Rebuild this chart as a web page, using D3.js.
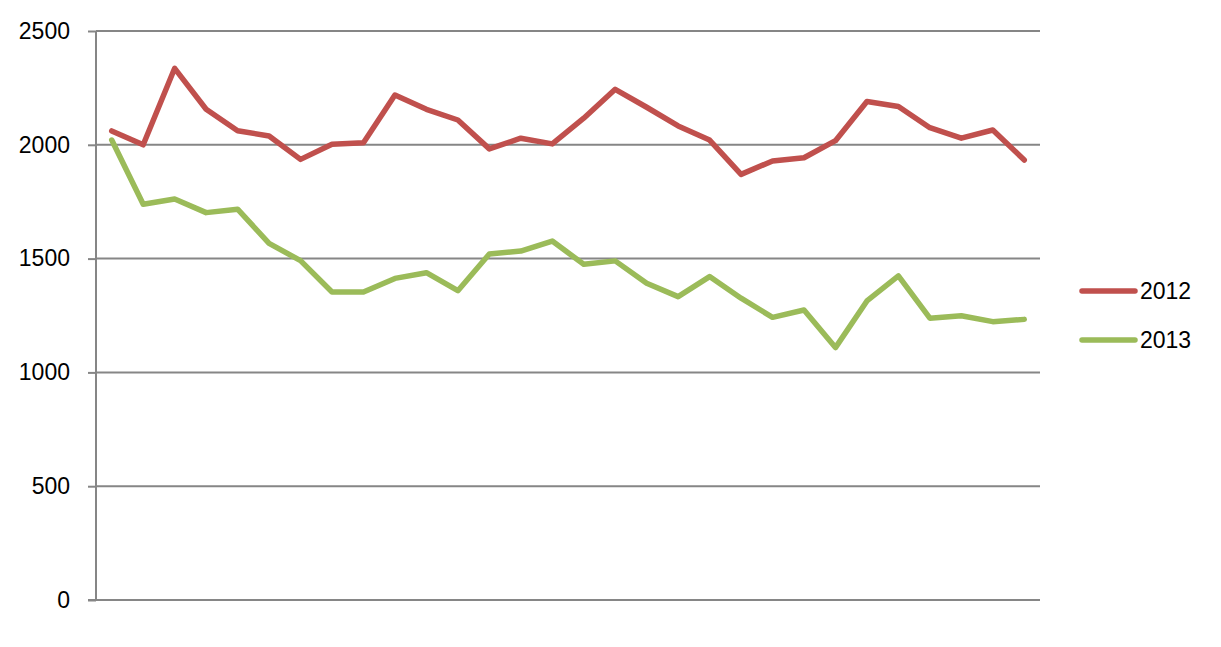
<!DOCTYPE html>
<html>
<head>
<meta charset="utf-8">
<script src="https://d3js.org/d3.v7.min.js"></script>
<style>
  html, body { margin: 0; padding: 0; background: #fff; }
  svg { display: block; }
  text { font-family: "Liberation Sans", Arial, sans-serif; }
</style>
</head>
<body>
<svg id="chart" width="1221" height="647"></svg>
<script>
const categories = d3.range(1, 31).map(String);
const series2012 = [2061, 2000, 2336, 2156, 2062, 2039, 1936, 2002, 2009, 2219,
                    2156, 2109, 1982, 2029, 2004, 2117, 2244, 2165, 2083, 2021,
                    1870, 1929, 1943, 2018, 2190, 2168, 2075, 2029, 2065, 1933];
const series2013 = [2021, 1739, 1762, 1702, 1717, 1567, 1491, 1353, 1353, 1413,
                    1438, 1359, 1520, 1533, 1577, 1475, 1490, 1392, 1333, 1421,
                    1326, 1242, 1274, 1109, 1314, 1424, 1238, 1249, 1223, 1233];
const yTicks = [0, 500, 1000, 1500, 2000, 2500];
const seriesNames = ["2012", "2013"];
const seriesColors = ["#C0504D", "#9BBB59"];

(function () {
const svg = d3.select("#chart");
const mLeft = 96, mRight = 1040, mTop = 31, mBottom = 600;

const x = d3.scaleBand().domain(categories).range([mLeft, mRight]).padding(0);
const y = d3.scaleLinear().domain([0, 2500]).range([mBottom, mTop]);

// gridlines
svg.append("g")
  .selectAll("line")
  .data(yTicks.filter(d => d !== 0))
  .join("line")
  .attr("x1", mLeft).attr("x2", mRight)
  .attr("y1", d => y(d)).attr("y2", d => y(d))
  .attr("stroke", "#868686").attr("stroke-width", 2);

// y axis
const yAxis = d3.axisLeft(y).tickValues(yTicks).tickFormat(d3.format("d"))
  .tickSize(8).tickPadding(18);
const gy = svg.append("g").attr("transform", `translate(${mLeft},0)`).call(yAxis);
gy.select(".domain").attr("stroke", "#868686").attr("stroke-width", 2)
  .attr("d", `M0,${mTop}V${mBottom + 1}`);
gy.selectAll(".tick line").attr("stroke", "#868686").attr("stroke-width", 2);
gy.selectAll(".tick text").attr("font-size", 23).attr("fill", "#000")
  .attr("font-family", "Liberation Sans, Arial, sans-serif");

// x axis line
svg.append("line")
  .attr("x1", mLeft - 8).attr("x2", mRight)
  .attr("y1", y(0)).attr("y2", y(0))
  .attr("stroke", "#868686").attr("stroke-width", 2);

// lines
const line = d3.line()
  .x((d, i) => x(categories[i]) + x.bandwidth() / 2)
  .y(d => y(d));

[series2012, series2013].forEach((s, k) => {
  svg.append("path")
    .datum(s)
    .attr("d", line)
    .attr("fill", "none")
    .attr("stroke", seriesColors[k])
    .attr("stroke-width", 5.5)
    .attr("stroke-linejoin", "round")
    .attr("stroke-linecap", "round");
});

// legend
const legend = svg.append("g");
seriesNames.forEach((name, k) => {
  const ly = 291 + k * 49;
  legend.append("line")
    .attr("x1", 1082).attr("x2", 1135)
    .attr("y1", ly).attr("y2", ly)
    .attr("stroke", seriesColors[k]).attr("stroke-width", 5.5)
    .attr("stroke-linecap", "round");
  legend.append("text")
    .attr("x", 1140).attr("y", ly)
    .attr("dy", "0.35em")
    .attr("font-size", 23)
    .attr("fill", "#000")
    .text(name);
});
})();
</script>
</body>
</html>
